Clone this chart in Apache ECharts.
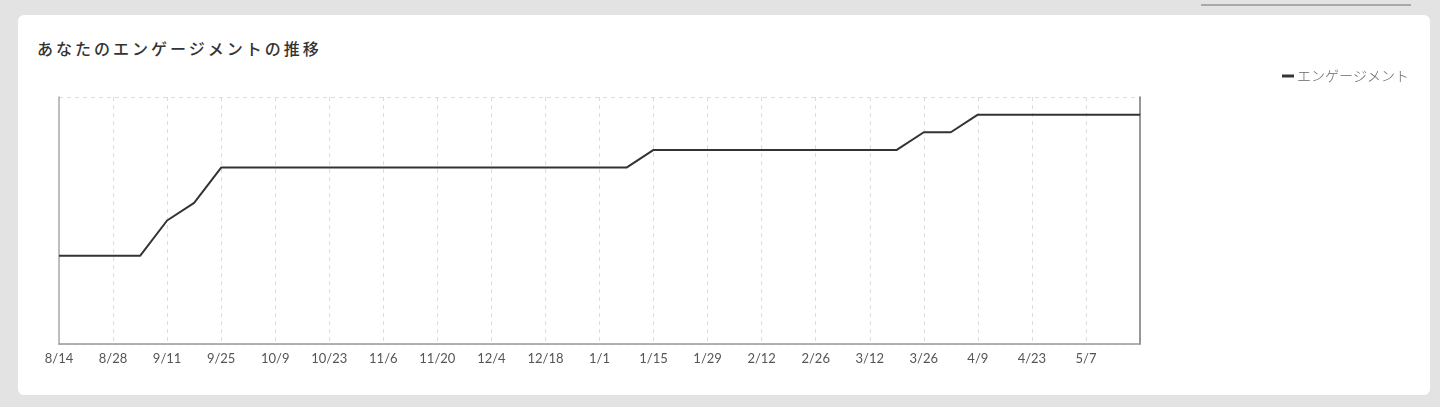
<!DOCTYPE html>
<html>
<head>
<meta charset="utf-8">
<script src="https://cdn.jsdelivr.net/npm/echarts@6/dist/echarts.min.js"></script>
<style>
  html, body { margin:0; padding:0; width:1440px; height:407px; background:#e3e3e3; overflow:hidden; }
  #topline { position:absolute; left:1201px; top:4px; width:210px; height:2px; background:#a9a9a9; }
  #card { position:absolute; left:18px; top:15px; width:1412px; height:380px; background:#fff; border-radius:6px; }
  #title { position:absolute; left:37px; top:36px; font-family:"Noto Sans CJK JP", sans-serif; font-size:16px; font-weight:500; letter-spacing:3px; color:#333; white-space:nowrap; }
  #chart { position:absolute; left:0; top:0; width:1440px; height:407px; }
</style>
</head>
<body>
<div id="topline"></div>
<div id="card"></div>
<div id="title">あなたのエンゲージメントの推移</div>
<div id="chart"></div>
<script>
const seriesName = 'エンゲージメント';
const weeks = ['8/14','8/21','8/28','9/4','9/11','9/18','9/25','10/2','10/9','10/16','10/23','10/30','11/6','11/13','11/20','11/27','12/4','12/11','12/18','12/25','1/1','1/8','1/15','1/22','1/29','2/5','2/12','2/19','2/26','3/5','3/12','3/19','3/26','4/2','4/9','4/16','4/23','4/30','5/7','5/14','5/21'];
const engagement = [5,5,5,5,7,8,10,10,10,10,10,10,10,10,10,10,10,10,10,10,10,10,11,11,11,11,11,11,11,11,11,11,12,12,13,13,13,13,13,13,13];
const yMin = 0, yMax = 14;

const chart = echarts.init(document.getElementById('chart'), null, {renderer:'canvas'});
const lastIdx = weeks.length - 1;
chart.setOption({
  animation: false,
  textStyle: { fontFamily: 'Lato, "Noto Sans CJK JP", sans-serif' },
  legend: {
    right: 26, top: 64,
    icon: 'rect', itemWidth: 12, itemHeight: 3, itemGap: 6,
    textStyle: { fontFamily: '"Noto Sans CJK JP", sans-serif', fontSize: 14, fontWeight: 300, color: '#666', padding: [0,0,0,-2] },
    data: [seriesName]
  },
  grid: { left: 59, right: 300, top: 97, bottom: 63, containLabel: false },
  xAxis: {
    type: 'category', data: weeks, boundaryGap: false,
    axisLine: { show: true, lineStyle: { color: '#999', width: 1.5 } },
    axisTick: { show: false },
    axisLabel: {
      color: '#555', fontSize: 13, margin: 8, fontFamily: 'Lato, sans-serif',
      interval: (i) => i % 2 === 0 && i !== lastIdx
    },
    splitLine: { show: true, interval: (i) => i % 2 === 0, lineStyle: { color: '#ddd', type: [4,4] } }
  },
  yAxis: [
    { type: 'value', min: yMin, max: yMax, interval: 14, position: 'left',
      axisLine: { show: true, lineStyle: { color: '#aaa', width: 1.5 } },
      axisTick: { show: false }, axisLabel: { show: false },
      splitLine: { show: true, lineStyle: { color: '#ddd', type: [4,4] } } },
    { type: 'value', min: yMin, max: yMax, interval: 14, position: 'right',
      axisLine: { show: true, lineStyle: { color: '#777', width: 1.5 } },
      axisTick: { show: false }, axisLabel: { show: false }, splitLine: { show: false } }
  ],
  series: [{
    name: seriesName, type: 'line', data: engagement,
    showSymbol: false, symbol: 'none', smooth: false,
    lineStyle: { color: '#333', width: 2 }, itemStyle: { color: '#333' }
  }]
});
</script>
</body>
</html>
